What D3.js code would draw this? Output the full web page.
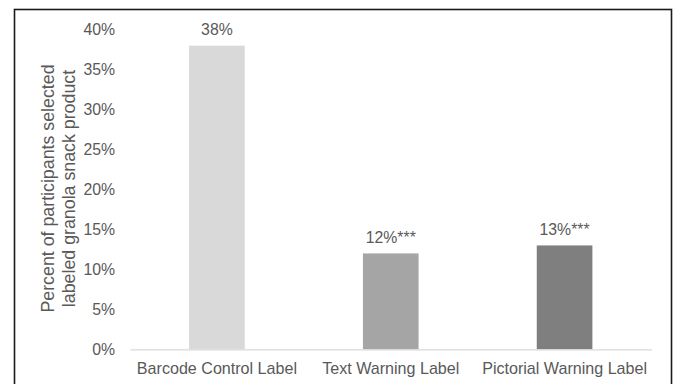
<!DOCTYPE html>
<html>
<head>
<meta charset="utf-8">
<script src="https://cdn.jsdelivr.net/npm/d3@7"></script>
<style>
  html, body { margin: 0; padding: 0; background: #fff; }
  svg { display: block; font-family: Arial, "Liberation Sans", sans-serif; }
</style>
</head>
<body>
<svg id="chart" width="676" height="384"></svg>
<script>
const categories = ["Barcode Control Label", "Text Warning Label", "Pictorial Warning Label"];
const values = [0.38, 0.12, 0.13];
const valueLabels = ["38%", "12%***", "13%***"];
const barColors = ["#d9d9d9", "#a5a5a5", "#7f7f7f"];
const tickValues = [0, 0.05, 0.10, 0.15, 0.20, 0.25, 0.30, 0.35, 0.40];
const yTitleLines = ["Percent of participants selected", "labeled granola snack product"];

const svg = d3.select("#chart");
const textColor = "#595959";

// outer border
svg.append("rect")
  .attr("x", 14.5).attr("y", 9.5)
  .attr("width", 657).attr("height", 400)
  .attr("fill", "#fff")
  .attr("stroke", "#1a1a1a")
  .attr("stroke-width", 1.6);

const x = d3.scaleBand()
  .domain(categories)
  .range([130, 651.5])
  .paddingInner(0.68)
  .paddingOuter(0.34);

const y = d3.scaleLinear()
  .domain([0, 0.40])
  .range([349.3, 29.7]);

// bars
svg.selectAll("rect.bar")
  .data(categories)
  .join("rect")
  .attr("class", "bar")
  .attr("x", d => x(d))
  .attr("width", x.bandwidth())
  .attr("y", (d, i) => y(values[i]))
  .attr("height", (d, i) => y(0) - y(values[i]))
  .attr("fill", (d, i) => barColors[i]);

// baseline axis
const xAxis = d3.axisBottom(x).tickSize(0).tickPadding(13.5);
const gx = svg.append("g").attr("transform", `translate(0,${y(0)})`).call(xAxis);
gx.select(".domain").attr("stroke", "#d9d9d9").attr("stroke-width", 1.2);
gx.selectAll("text")
  .attr("fill", textColor)
  .attr("font-size", "16.1px")
  .attr("font-family", "Arial, 'Liberation Sans', sans-serif");

// y axis (labels only)
const yAxis = d3.axisLeft(y)
  .tickValues(tickValues)
  .tickFormat(d3.format(".0%"))
  .tickSize(0)
  .tickPadding(0);
const gy = svg.append("g").attr("transform", "translate(115,0)").call(yAxis);
gy.select(".domain").remove();
gy.selectAll("text")
  .attr("fill", textColor)
  .attr("font-size", "15.8px")
  .attr("font-family", "Arial, 'Liberation Sans', sans-serif");

// value labels
svg.selectAll("text.val")
  .data(categories)
  .join("text")
  .attr("class", "val")
  .attr("x", d => x(d) + x.bandwidth() / 2)
  .attr("y", (d, i) => y(values[i]) - 10.5)
  .attr("text-anchor", "middle")
  .attr("fill", textColor)
  .attr("font-size", "15.8px")
  .text((d, i) => valueLabels[i]);

// y title
const yt = svg.append("text")
  .attr("transform", "translate(54,188.5) rotate(-90)")
  .attr("text-anchor", "middle")
  .attr("fill", textColor)
  .attr("font-size", "17.8px");
yt.selectAll("tspan")
  .data(yTitleLines)
  .join("tspan")
  .attr("x", 0)
  .attr("y", (d, i) => i * 20.5)
  .text(d => d);
</script>
</body>
</html>
